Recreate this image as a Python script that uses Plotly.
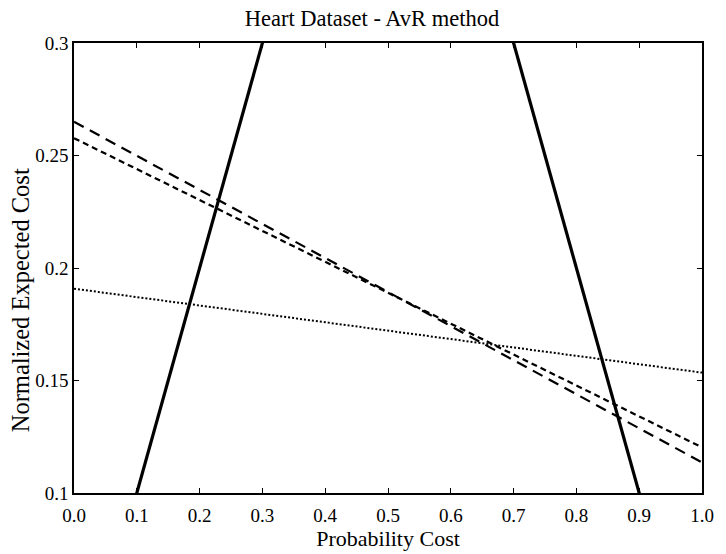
import plotly.graph_objects as go

# Cost-curve endpoints (probability cost on x, normalized expected cost on y)
prob_cost = [0.0, 1.0]
trivial_pos_x = [0.0, 1.0]
trivial_pos_y = [0.0, 1.0]      # always-positive classifier: y = x
trivial_neg_x = [0.0, 1.0]
trivial_neg_y = [1.0, 0.0]      # always-negative classifier: y = 1 - x
avr_dashed = [0.265, 0.1136]
avr_short_dashed = [0.2577, 0.1203]
avr_dotted = [0.1908, 0.1535]

x_ticks = [0.0, 0.1, 0.2, 0.3, 0.4, 0.5, 0.6, 0.7, 0.8, 0.9, 1.0]
x_tick_text = ["0.0", "0.1", "0.2", "0.3", "0.4", "0.5", "0.6", "0.7", "0.8", "0.9", "1.0"]
y_ticks = [0.1, 0.15, 0.2, 0.25, 0.3]
y_tick_text = ["0.1", "0.15", "0.2", "0.25", "0.3"]

font_family = "Liberation Serif, Times New Roman, serif"

W, H = 726, 554
L, R, T, B = 74, 14, 43, 60

fig = go.Figure()
fig.add_trace(go.Scatter(x=trivial_pos_x, y=trivial_pos_y, mode="lines",
                         line=dict(color="black", width=3.2)))
fig.add_trace(go.Scatter(x=trivial_neg_x, y=trivial_neg_y, mode="lines",
                         line=dict(color="black", width=3.2)))
fig.add_trace(go.Scatter(x=prob_cost, y=avr_dashed, mode="lines",
                         line=dict(color="black", width=2.2, dash="11px,7px")))
fig.add_trace(go.Scatter(x=prob_cost, y=avr_short_dashed, mode="lines",
                         line=dict(color="black", width=2.2, dash="6px,4px")))
fig.add_trace(go.Scatter(x=prob_cost, y=avr_dotted, mode="lines",
                         line=dict(color="black", width=2, dash="2px,2px")))

plot_w = W - L - R
plot_h = H - T - B

fig.update_layout(
    width=W, height=H,
    margin=dict(l=L, r=R, t=T, b=B),
    paper_bgcolor="white", plot_bgcolor="white",
    showlegend=False,
    font=dict(family=font_family, color="black", size=19),
    title=dict(text="Heart Dataset - AvR method", x=372 / W, xanchor="center",
               y=1 - 18 / H, yanchor="middle",
               font=dict(family=font_family, size=22.5, color="black")),
    annotations=[
        # y-axis title, placed as rotated text left of the tick labels
        dict(text="Normalized Expected Cost", textangle=-90,
             xref="paper", yref="paper",
             x=(20 - L) / plot_w, y=(H - B - 301) / plot_h,
             xanchor="center", yanchor="middle", showarrow=False,
             font=dict(family=font_family, size=24.5, color="black")),
    ],
)
fig.update_xaxes(
    range=[0, 1], tickvals=x_ticks, ticktext=x_tick_text,
    showgrid=False, zeroline=False,
    showline=True, linecolor="black", linewidth=1.5, mirror="ticks",
    ticks="inside", ticklen=5, tickcolor="black",
    tickfont=dict(size=19), ticklabelstandoff=4,
    title=dict(text="Probability Cost", font=dict(size=22), standoff=1),
)
fig.update_yaxes(
    range=[0.1, 0.3], tickvals=y_ticks, ticktext=y_tick_text,
    showgrid=False, zeroline=False,
    showline=True, linecolor="black", linewidth=1.5, mirror="ticks",
    ticks="inside", ticklen=5, tickcolor="black",
    tickfont=dict(size=19),
)

fig.write_html("out.html")
